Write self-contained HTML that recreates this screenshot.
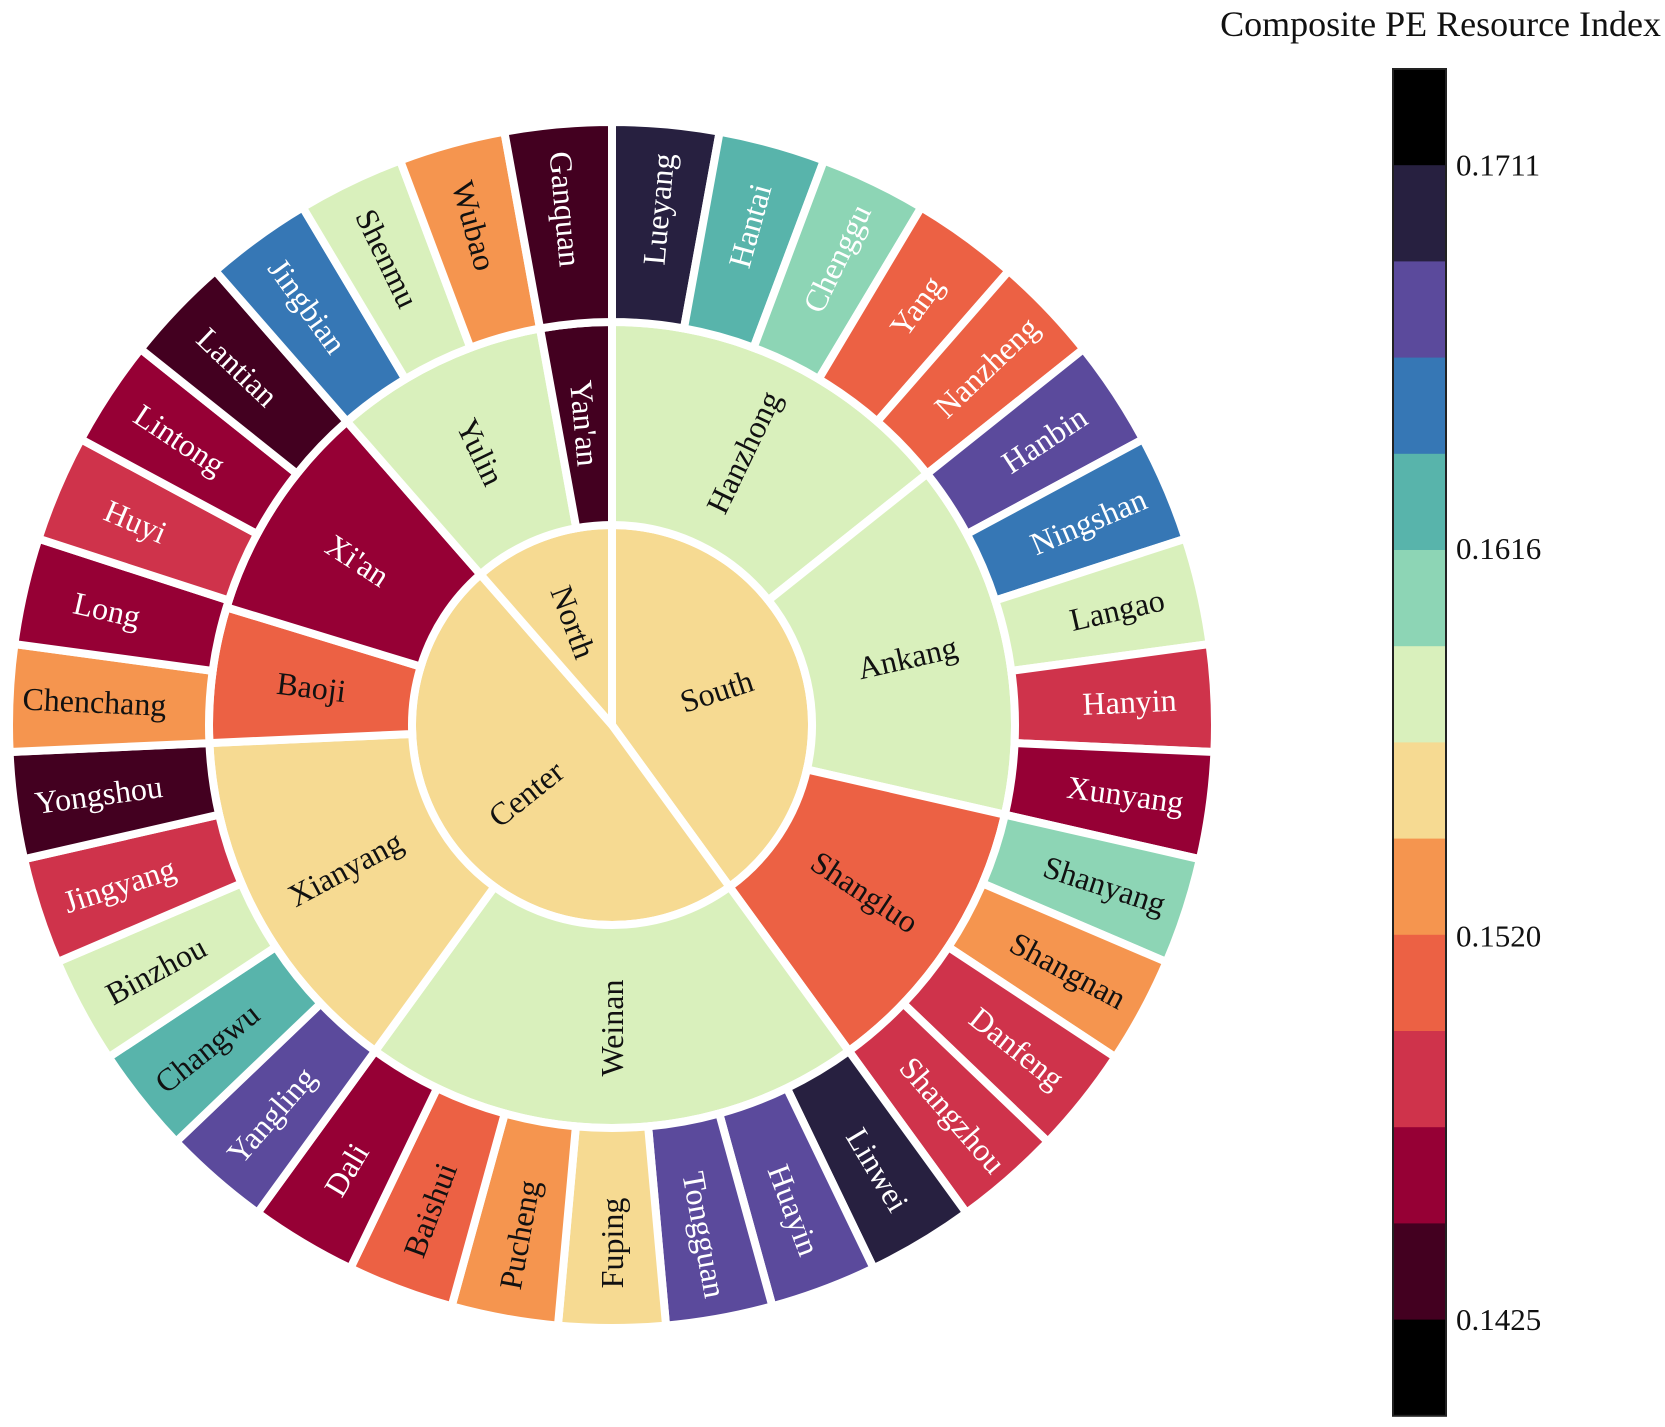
<!DOCTYPE html>
<html><head><meta charset="utf-8"><style>
html,body{margin:0;padding:0;background:#fff;}
text{font-family:"Liberation Serif","Times New Roman",Times,serif;}
</style></head><body>
<svg id="chart" width="1665" height="1422" viewBox="0 0 1665 1422" xmlns="http://www.w3.org/2000/svg" font-family="'Liberation Serif', 'Times New Roman', serif">
<text x="1661" y="36" font-size="36" text-anchor="end" fill="#111" font-family="'Liberation Serif', serif">Composite PE Resource Index</text>
<g id="rings"></g>
<g id="cbar"></g>
</svg>
<script>
// ---- data ----
const regions = ["South","Center","North"];
const regionValues = [0.1556,0.1556,0.1556];
const cities = ["Hanzhong","Ankang","Shangluo","Weinan","Xianyang","Baoji","Xi'an","Yulin","Yan'an"];
const cityRegion = [0,0,0,1,1,1,1,2,2];
const cityValues = [0.1580,0.1580,0.1508,0.1580,0.1556,0.1508,0.1461,0.1580,0.1437];
const counties = ["Lueyang","Hantai","Chenggu","Yang","Nanzheng","Hanbin","Ningshan","Langao","Hanyin","Xunyang","Shanyang","Shangnan","Danfeng","Shangzhou","Linwei","Huayin","Tongguan","Fuping","Pucheng","Baishui","Dali","Yangling","Changwu","Binzhou","Jingyang","Yongshou","Chenchang","Long","Huyi","Lintong","Lantian","Jingbian","Shenmu","Wubao","Ganquan"];
const countyCity = [0,0,0,0,0,1,1,1,1,1,2,2,2,2,3,3,3,3,3,3,3,4,4,4,4,4,5,6,6,6,6,7,7,7,8];
const countyValues = [0.1699,0.1628,0.1604,0.1508,0.1508,0.1675,0.1651,0.1580,0.1485,0.1461,0.1604,0.1532,0.1485,0.1485,0.1699,0.1675,0.1675,0.1556,0.1532,0.1508,0.1461,0.1675,0.1628,0.1580,0.1485,0.1437,0.1532,0.1461,0.1485,0.1461,0.1437,0.1651,0.1580,0.1532,0.1437];
const countyDarkText = ["Langao","Shanyang","Shangnan","Fuping","Pucheng","Baishui","Changwu","Binzhou","Chenchang","Shenmu","Wubao"];
const tickValues = [0.1425,0.1520,0.1616,0.1711];
const tickLabels = ["0.1425","0.1520","0.1616","0.1711"];
// ---- colormap ----
const vmin=0.1425, vmax=0.1711, nb=12;
const palette=["#430020","#960035","#cf334b","#ec6144","#f5954f","#f6da92","#d9f0bc","#8dd5b5","#58b4ab","#3677b5","#5b4a9c","#272040"];
function color(v){ if(v<vmin) return "#000"; if(v>vmax) return "#000";
  let i=Math.floor((v-vmin)/(vmax-vmin)*nb); return palette[Math.min(nb-1,Math.max(0,i))]; }
const CX=612, CY=725, R1=200, R2=403, R3=603;
const NS="http://www.w3.org/2000/svg";
const FONT="'Liberation Serif', 'Times New Roman', serif";
const rings=document.getElementById('rings');
const total=counties.length;
function ang(i){return i/total*360;}
function pt(r,a){const t=a*Math.PI/180;return [CX+r*Math.sin(t),CY-r*Math.cos(t)];}
function wedge(r0,r1,a0,a1){
  const large=(a1-a0)>180?1:0;
  const p1=pt(r1,a0),p2=pt(r1,a1);
  if(r0<=0){ return `M${CX},${CY}L${p1[0]},${p1[1]}A${r1},${r1} 0 ${large} 1 ${p2[0]},${p2[1]}Z`; }
  const p3=pt(r0,a1),p4=pt(r0,a0);
  return `M${p1[0]},${p1[1]}A${r1},${r1} 0 ${large} 1 ${p2[0]},${p2[1]}L${p3[0]},${p3[1]}A${r0},${r0} 0 ${large} 0 ${p4[0]},${p4[1]}Z`;
}
function label(txt,r,a,fill,g){
  const p=pt(r,a); let rot=(a<180)?a-90:a-270;
  const t=document.createElementNS(NS,'text');
  t.setAttribute('x',p[0]);t.setAttribute('y',p[1]);
  t.setAttribute('transform',`rotate(${rot} ${p[0]} ${p[1]})`);
  t.setAttribute('text-anchor','middle');t.setAttribute('dominant-baseline','central');
  t.setAttribute('font-size','32');t.setAttribute('fill',fill);
  t.setAttribute('font-family',FONT);
  t.textContent=txt; g.appendChild(t); return t;
}
function addWedge(name,r0,r1,a0,a1,v,txt,tr,fill){
  const g=document.createElementNS(NS,'g');
  
  
  const p=document.createElementNS(NS,'path');
  p.setAttribute('d',wedge(r0,r1,a0,a1));p.setAttribute('fill',color(v));
  p.setAttribute('stroke','#fff');p.setAttribute('stroke-width','8');p.setAttribute('stroke-linejoin','miter');
  g.appendChild(p);
  label(txt,tr,(a0+a1)/2,fill,g);
  rings.appendChild(g);
}
// spans
const citySpan=cities.map((c,ci)=>{let s=countyCity.indexOf(ci),e=countyCity.lastIndexOf(ci)+1;return [s,e];});
// Baoji wedge in the reference extends past its single county
citySpan[5][1]=27.9; citySpan[6][0]=27.9;
const regionSpan=regions.map((r,ri)=>{let idx=cityRegion.map((x,i)=>x===ri?i:-1).filter(i=>i>=0);return [citySpan[idx[0]][0],citySpan[idx[idx.length-1]][1]];});
regions.forEach((r,i)=>{
  addWedge('region-'+r.toLowerCase(),0,R1,ang(regionSpan[i][0]),ang(regionSpan[i][1]),regionValues[i],r,R1*0.55,'#111');
});
cities.forEach((c,i)=>{
  const v=cityValues[i]; const dark=v>=0.1496;
  addWedge('city-'+c.toLowerCase().replace(/'/g,''),R1,R2,ang(citySpan[i][0]),ang(citySpan[i][1]),v,c,303,dark?'#111':'#fff');
});
counties.forEach((c,i)=>{
  const fill=countyDarkText.indexOf(c)>=0?'#111':'#fff';
  addWedge('county-'+c.toLowerCase(),R2,R3,ang(i),ang(i+1),countyValues[i],c,518,fill);
});
// colorbar
const cb=document.getElementById('cbar');
const X0=1393,W=53,Y0=69,SEG=96.2;
const segColors=["#000"].concat(palette.slice().reverse()).concat(["#000"]);
function yOf(v){return Y0+SEG+(vmax-v)/(vmax-vmin)*nb*SEG;}
segColors.forEach((c,i)=>{
  const r=document.createElementNS(NS,'rect');
  
  
  r.setAttribute('x',X0);r.setAttribute('y',Y0+i*SEG);r.setAttribute('width',W);r.setAttribute('height',SEG+0.6);r.setAttribute('fill',c);
  cb.appendChild(r);
});
const bd=document.createElementNS(NS,'rect');


bd.setAttribute('x',X0);bd.setAttribute('y',Y0);bd.setAttribute('width',W);bd.setAttribute('height',SEG*14);bd.setAttribute('fill','none');bd.setAttribute('stroke','#222');bd.setAttribute('stroke-width','2');
cb.appendChild(bd);
tickValues.forEach((v,i)=>{
  const t=document.createElementNS(NS,'text');
  
  
  t.setAttribute('x',1456);t.setAttribute('y',yOf(v));t.setAttribute('dominant-baseline','central');
  t.setAttribute('font-size','31');t.setAttribute('fill','#111');
  t.setAttribute('font-family',FONT);
  t.textContent=tickLabels[i];cb.appendChild(t);
});
</script>
</body></html>
